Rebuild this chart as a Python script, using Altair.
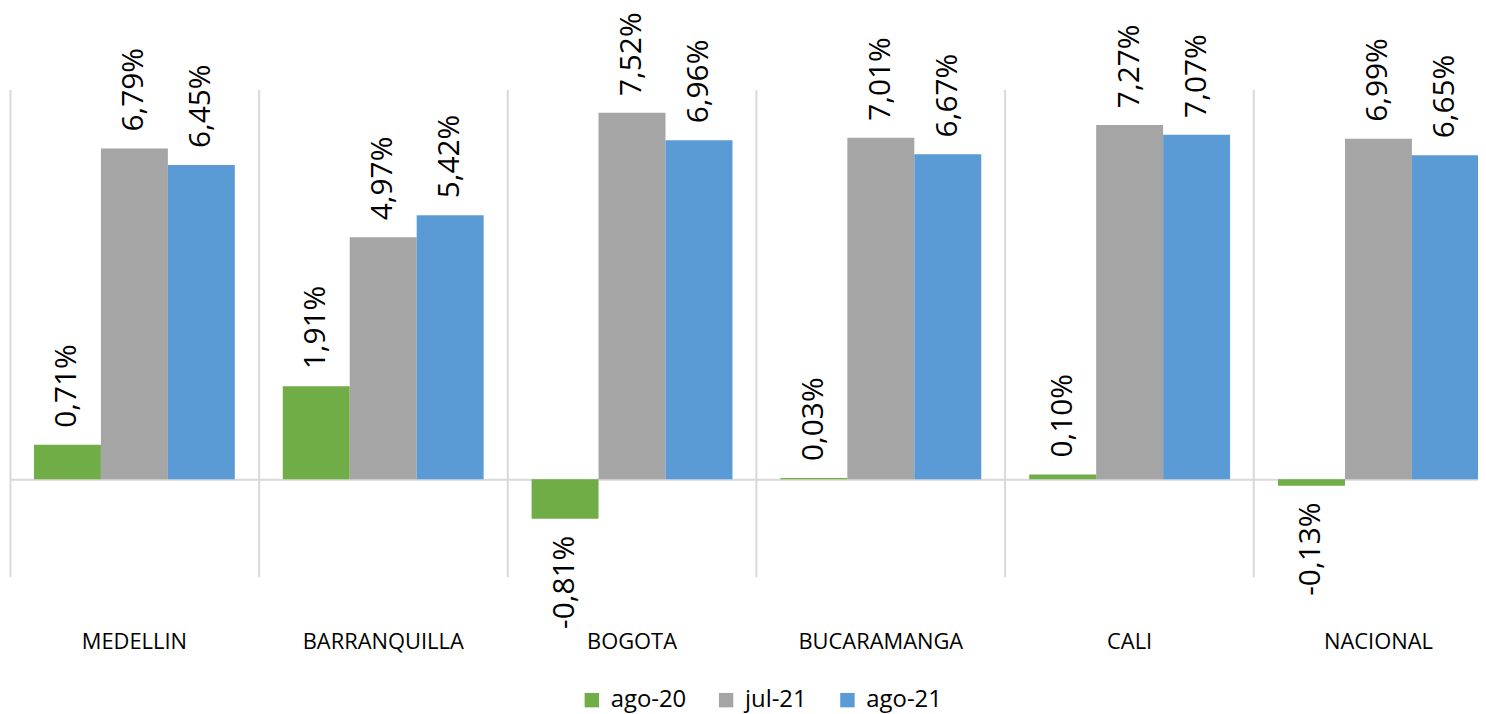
import altair as alt
import pandas as pd

cities = ["MEDELLIN", "BARRANQUILLA", "BOGOTA", "BUCARAMANGA", "CALI", "NACIONAL"]
series_names = ["ago-20", "jul-21", "ago-21"]
ago20 = [0.71, 1.91, -0.81, 0.03, 0.10, -0.13]
jul21 = [6.79, 4.97, 7.52, 7.01, 7.27, 6.99]
ago21 = [6.45, 5.42, 6.96, 6.67, 7.07, 6.65]
colors = ["#70AD47", "#A5A5A5", "#5B9BD5"]

rows = []
for name, vals in zip(series_names, [ago20, jul21, ago21]):
    for c, v in zip(cities, vals):
        rows.append({"city": c, "series": name, "value": v,
                     "label": f"{v:.2f}%".replace(".", ",")})
df = pd.DataFrame(rows)

FONT = "Open Sans"

x_enc = alt.X("city:N", sort=cities, title=None,
              scale=alt.Scale(paddingInner=0, paddingOuter=0),
              axis=alt.Axis(labelAngle=0, domain=False, ticks=False,
                            bandPosition=0, labelOffset=0,
                            labelPadding=55, labelFontSize=22, labelFont=FONT,
                            labelColor="#000000", grid=True,
                            gridColor="#D9D9D9", gridWidth=2))
y_enc = alt.Y("value:Q", scale=alt.Scale(domain=[-2, 8], nice=False, zero=False),
              title=None,
              axis=alt.Axis(values=[0], labels=False, ticks=False, domain=False,
                            grid=True, gridColor="#D9D9D9", gridWidth=2))
xoff = alt.XOffset("series:N", sort=series_names,
                   scale=alt.Scale(paddingInner=0, paddingOuter=0.358))

base = alt.Chart(df)

bars = base.mark_bar().encode(
    x=x_enc,
    xOffset=xoff,
    y=y_enc,
    color=alt.Color("series:N", sort=series_names,
                    scale=alt.Scale(domain=series_names, range=colors),
                    legend=alt.Legend(title=None, orient="none", legendX=573, legendY=602,
                                      direction="horizontal", symbolType="square",
                                      symbolSize=210, symbolStrokeWidth=0,
                                      labelFontSize=24, labelFont=FONT,
                                      labelColor="#000000", labelOffset=7,
                                      columnPadding=28)),
)

pos_text = base.transform_filter("datum.value >= 0").mark_text(
    angle=270, align="left", baseline="middle", dx=17, fontSize=30, font=FONT,
    color="#000000"
).encode(x=x_enc, xOffset=xoff, y=y_enc, text="label:N")

neg_text = base.transform_filter("datum.value < 0").mark_text(
    angle=270, align="right", baseline="middle", dx=-17, fontSize=30, font=FONT,
    color="#000000"
).encode(x=x_enc, xOffset=xoff, y=y_enc, text="label:N")

chart = alt.layer(bars, pos_text, neg_text).properties(
    width=1501, height=490,
    padding={"left": 2, "top": 80, "right": -25, "bottom": 136},
    autosize=alt.AutoSizeParams(type="none"),
).configure_view(stroke=None)

chart.save("out.html", embed_options={"renderer": "svg", "actions": False})
